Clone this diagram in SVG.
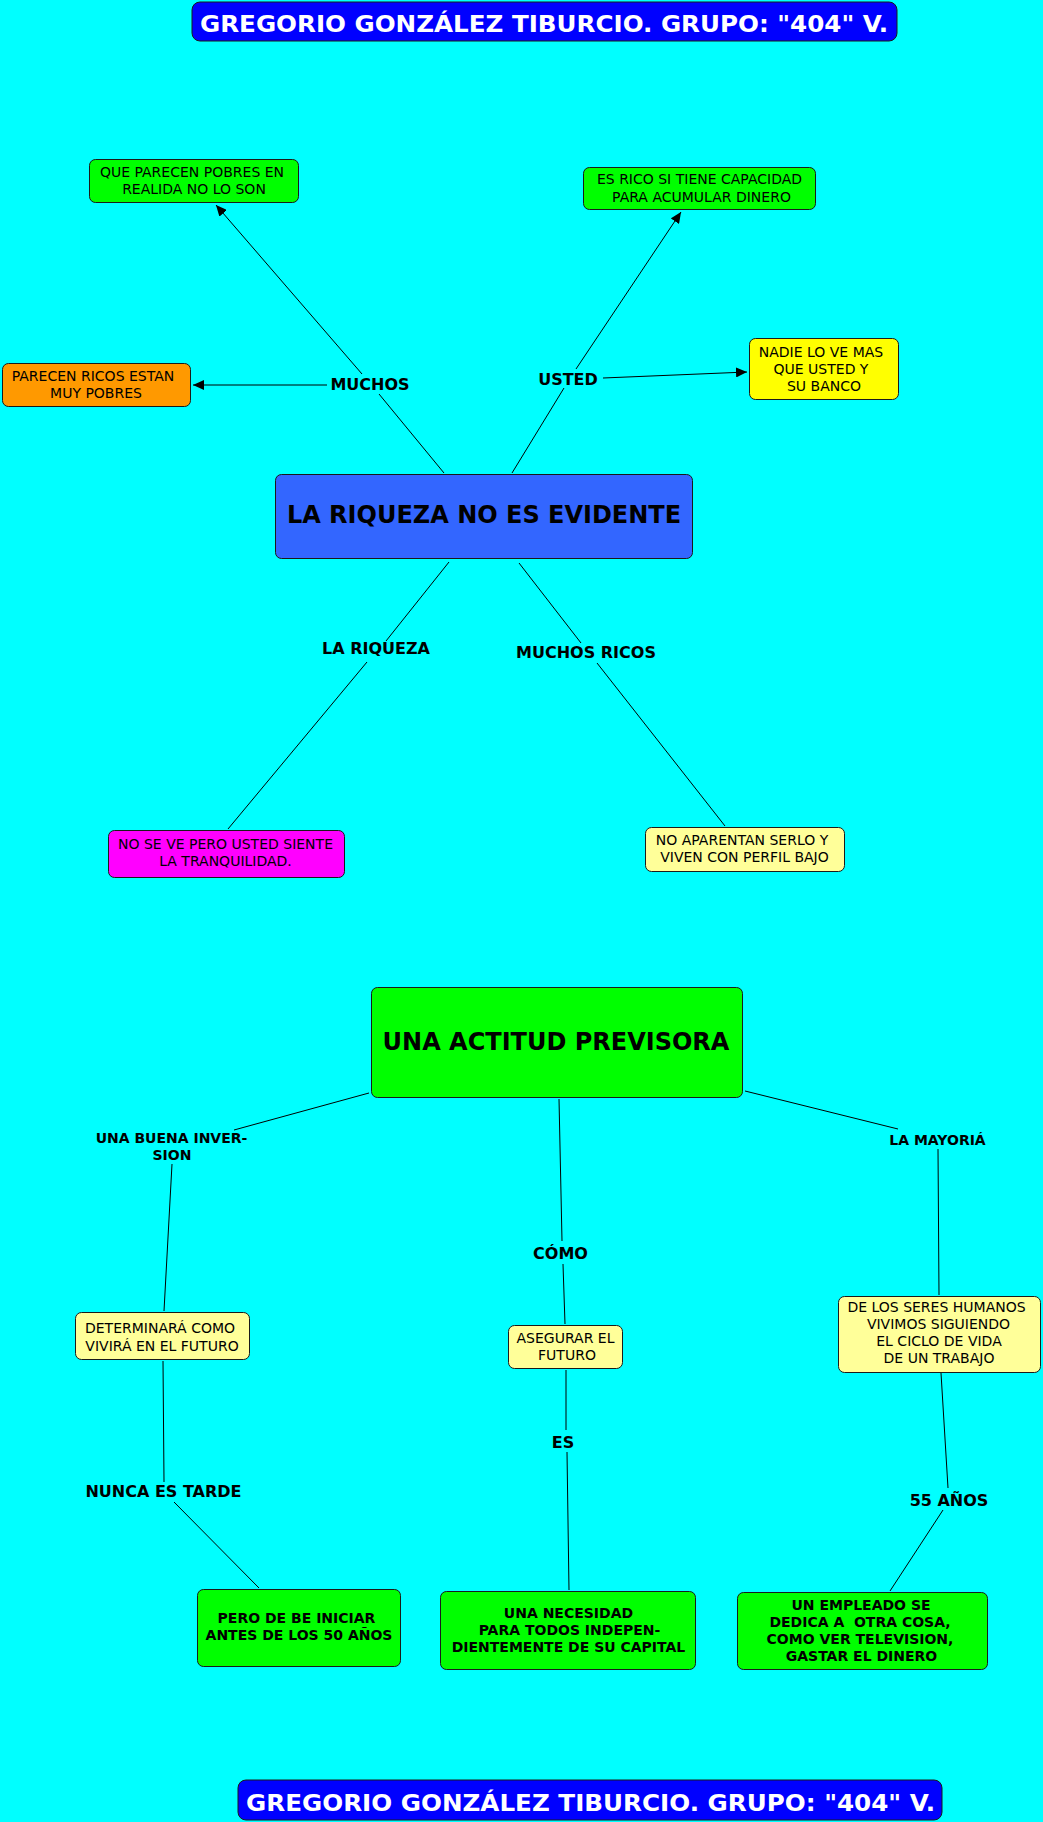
<svg xmlns="http://www.w3.org/2000/svg" width="1043" height="1822" viewBox="0 0 1043 1822">
<defs>
<style>
.box{stroke:#1a1a1a;stroke-width:1}
.t{font-family:"DejaVu Sans","Liberation Sans",sans-serif;font-size:14px;fill:#000;text-anchor:middle}
.b{font-weight:bold}
.lbl{font-family:"DejaVu Sans","Liberation Sans",sans-serif;font-size:16px;font-weight:bold;fill:#000;text-anchor:middle}
.big{font-family:"DejaVu Sans","Liberation Sans",sans-serif;font-size:24px;font-weight:bold;fill:#000;text-anchor:middle}
.ttl{font-family:"DejaVu Sans","Liberation Sans",sans-serif;font-size:23px;font-weight:bold;fill:#fff;text-anchor:middle}
.c{stroke:#000;stroke-width:1;fill:none}
</style>
<marker id="arr" markerUnits="userSpaceOnUse" markerWidth="12" markerHeight="10" refX="11" refY="5" orient="auto">
<path d="M0,0 L11,5 L0,10 Z" fill="#000"/>
</marker>
</defs>
<rect x="0" y="0" width="1043" height="1822" fill="#00FFFF"/>

<g id="connectors">
<line class="c" x1="444" y1="473" x2="379" y2="394"/>
<line class="c" x1="362" y1="374" x2="216" y2="205" marker-end="url(#arr)"/>
<line class="c" x1="327" y1="385" x2="193" y2="385" marker-end="url(#arr)"/>
<line class="c" x1="512" y1="473" x2="564" y2="388"/>
<line class="c" x1="576" y1="369" x2="681" y2="212" marker-end="url(#arr)"/>
<line class="c" x1="603" y1="378" x2="747" y2="372" marker-end="url(#arr)"/>
<line class="c" x1="449" y1="562" x2="386" y2="641"/>
<line class="c" x1="367" y1="662" x2="228" y2="829"/>
<line class="c" x1="519" y1="563" x2="581" y2="643"/>
<line class="c" x1="597" y1="663" x2="725" y2="826"/>
<line class="c" x1="369" y1="1093" x2="234" y2="1130"/>
<line class="c" x1="172" y1="1164" x2="164" y2="1311"/>
<line class="c" x1="163" y1="1361" x2="164" y2="1482"/>
<line class="c" x1="174" y1="1502" x2="259" y2="1588"/>
<line class="c" x1="559" y1="1099" x2="562" y2="1241"/>
<line class="c" x1="563" y1="1264" x2="565" y2="1324"/>
<line class="c" x1="566" y1="1370" x2="566" y2="1430"/>
<line class="c" x1="567" y1="1452" x2="569" y2="1590"/>
<line class="c" x1="745" y1="1091" x2="898" y2="1129"/>
<line class="c" x1="938" y1="1149" x2="939" y2="1295"/>
<line class="c" x1="941" y1="1373" x2="948" y2="1488"/>
<line class="c" x1="943" y1="1510" x2="890" y2="1591"/>
</g>

<g id="title-top">
<rect class="box" x="192" y="2" width="705" height="39" rx="8" fill="#0000FF"/>
<text class="ttl" x="544" y="32" textLength="688" lengthAdjust="spacingAndGlyphs">GREGORIO GONZÁLEZ TIBURCIO. GRUPO: "404" V.</text>
</g>

<g id="n-main1">
<rect class="box" x="275.5" y="474.5" width="417" height="84" rx="6" fill="#3366FF"/>
<text class="big" x="484" y="523">LA RIQUEZA NO ES EVIDENTE</text>
</g>

<g id="n-pobres">
<rect class="box" x="89.5" y="159.5" width="209" height="43" rx="6" fill="#00FF00"/>
<text class="t" x="192" y="177">QUE PARECEN POBRES EN</text>
<text class="t" x="194" y="194">REALIDA NO LO SON</text>
</g>

<g id="n-ricos">
<rect class="box" x="2.5" y="363.5" width="188" height="43" rx="6" fill="#FF9900"/>
<text class="t" x="93" y="381">PARECEN RICOS ESTAN</text>
<text class="t" x="96" y="398">MUY POBRES</text>
</g>

<g id="n-capacidad">
<rect class="box" x="583.5" y="167.5" width="232" height="42" rx="6" fill="#00FF00"/>
<text class="t" x="699.5" y="184">ES RICO SI TIENE CAPACIDAD</text>
<text class="t" x="701.5" y="202">PARA ACUMULAR DINERO</text>
</g>

<g id="n-banco">
<rect class="box" x="749.5" y="338.5" width="149" height="61" rx="6" fill="#FFFF00"/>
<text class="t" x="821" y="357">NADIE LO VE MAS</text>
<text class="t" x="821" y="374">QUE USTED Y</text>
<text class="t" x="824" y="391">SU BANCO</text>
</g>

<g id="n-tranquilidad">
<rect class="box" x="108.5" y="830.5" width="236" height="47" rx="6" fill="#FF00FF"/>
<text class="t" x="225.5" y="849">NO SE VE PERO USTED SIENTE</text>
<text class="t" x="225.5" y="866">LA TRANQUILIDAD.</text>
</g>

<g id="n-perfil">
<rect class="box" x="645.5" y="827.5" width="199" height="44" rx="6" fill="#FFFF99"/>
<text class="t" x="742" y="845">NO APARENTAN SERLO Y</text>
<text class="t" x="744.5" y="862">VIVEN CON PERFIL BAJO</text>
</g>

<g id="labels-top">
<text class="lbl" x="370" y="390">MUCHOS</text>
<text class="lbl" x="568" y="385">USTED</text>
<text class="lbl" x="376" y="654">LA RIQUEZA</text>
<text class="lbl" x="586" y="658">MUCHOS RICOS</text>
</g>

<g id="n-main2">
<rect class="box" x="371.5" y="987.5" width="371" height="110" rx="6" fill="#00FF00"/>
<text class="big" x="556" y="1050">UNA ACTITUD PREVISORA</text>
</g>

<g id="n-determinara">
<rect class="box" x="75.5" y="1312.5" width="174" height="47" rx="6" fill="#FFFF99"/>
<text class="t" x="160" y="1333">DETERMINARÁ COMO</text>
<text class="t" x="162" y="1351">VIVIRÁ EN EL FUTURO</text>
</g>

<g id="n-asegurar">
<rect class="box" x="508.5" y="1325.5" width="114" height="43" rx="6" fill="#FFFF99"/>
<text class="t" x="565.5" y="1343">ASEGURAR EL</text>
<text class="t" x="567" y="1360">FUTURO</text>
</g>

<g id="n-ciclo">
<rect class="box" x="838.5" y="1296.5" width="202" height="76" rx="6" fill="#FFFF99"/>
<text class="t" x="936.5" y="1312">DE LOS SERES HUMANOS</text>
<text class="t" x="938.5" y="1329">VIVIMOS SIGUIENDO</text>
<text class="t" x="939" y="1346">EL CICLO DE VIDA</text>
<text class="t" x="939" y="1363">DE UN TRABAJO</text>
</g>

<g id="n-iniciar">
<rect class="box" x="197.5" y="1589.5" width="203" height="77" rx="6" fill="#00FF00"/>
<text class="t b" x="296.5" y="1623">PERO DE BE INICIAR</text>
<text class="t b" x="299" y="1640">ANTES DE LOS 50 AÑOS</text>
</g>

<g id="n-necesidad">
<rect class="box" x="440.5" y="1591.5" width="255" height="78" rx="6" fill="#00FF00"/>
<text class="t b" x="568.5" y="1618">UNA NECESIDAD</text>
<text class="t b" x="569.5" y="1635">PARA TODOS INDEPEN-</text>
<text class="t b" x="568.5" y="1652">DIENTEMENTE DE SU CAPITAL</text>
</g>

<g id="n-empleado">
<rect class="box" x="737.5" y="1592.5" width="250" height="77" rx="6" fill="#00FF00"/>
<text class="t b" x="861" y="1610">UN EMPLEADO SE</text>
<text class="t b" x="860" y="1627" xml:space="preserve">DEDICA A  OTRA COSA,</text>
<text class="t b" x="860" y="1644">COMO VER TELEVISION,</text>
<text class="t b" x="861.5" y="1661">GASTAR EL DINERO</text>
</g>

<g id="labels-bottom">
<text class="t b" x="171.5" y="1143">UNA BUENA INVER-</text>
<text class="t b" x="172" y="1160">SION</text>
<text class="lbl" x="560.5" y="1259">CÓMO</text>
<text class="t b" x="937.5" y="1145">LA MAYORIÁ</text>
<text class="lbl" x="163.5" y="1497">NUNCA ES TARDE</text>
<text class="lbl" x="563" y="1448">ES</text>
<text class="lbl" x="949" y="1506">55 AÑOS</text>
</g>

<g id="title-bottom">
<rect class="box" x="238" y="1780" width="704" height="40" rx="8" fill="#0000FF"/>
<text class="ttl" x="590.5" y="1811" textLength="689" lengthAdjust="spacingAndGlyphs">GREGORIO GONZÁLEZ TIBURCIO. GRUPO: "404" V.</text>
</g>
</svg>
